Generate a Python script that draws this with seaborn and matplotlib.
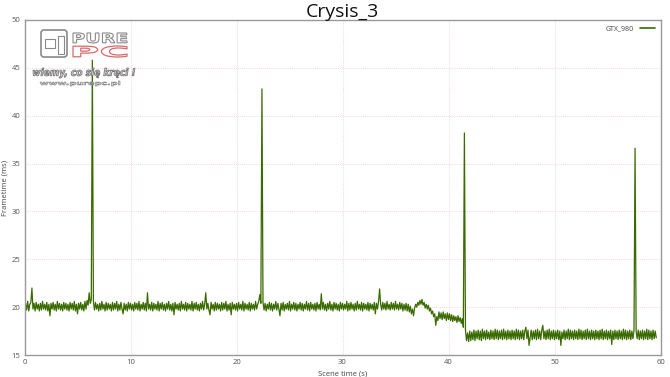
import numpy as np
import pandas as pd
import matplotlib
matplotlib.use("Agg")
import matplotlib.pyplot as plt
from matplotlib.textpath import TextPath
from matplotlib.patches import PathPatch, FancyBboxPatch, Rectangle
from matplotlib.font_manager import FontProperties
from matplotlib.transforms import Affine2D
import seaborn as sns

# ---- data ----
title = "Crysis_3"
series_name = "GTX_980"
x_label = "Scene time (s)"
y_label = "Frametime (ms)"
time_step = 0.1
frametime = [
    19.5, 20.4, 19.7, 20.6, 19.6, 20.3, 20.5, 22.0, 19.8, 20.4, 19.6, 20.5, 19.8, 20.3, 19.6, 20.4, 19.7, 20.6, 19.8, 20.3,
    19.7, 20.5, 19.6, 20.3, 19.1, 20.4, 19.8, 20.5, 19.7, 20.3, 19.6, 20.6, 19.8, 20.4, 19.7, 20.3, 19.6, 20.5, 19.8, 20.4,
    19.7, 20.3, 19.6, 20.5, 19.8, 20.4, 19.7, 20.6, 19.6, 20.3, 19.3, 20.4, 19.8, 20.5, 19.7, 20.3, 19.6, 20.6, 19.8, 20.7,
    20.2, 21.5, 20.4, 20.8, 45.8, 20.6, 19.7, 20.5, 19.8, 20.3, 19.6, 20.4, 19.7, 20.6, 19.8, 20.3, 19.6, 20.5, 19.7, 20.4,
    19.8, 20.3, 19.6, 20.5, 19.7, 20.4, 19.8, 20.6, 19.6, 20.3, 19.7, 20.5, 19.8, 19.3, 20.4, 19.7, 20.3, 19.6, 20.5, 19.8,
    20.4, 19.7, 20.3, 19.6, 20.5, 19.8, 20.4, 19.7, 20.6, 19.6, 20.3, 19.8, 20.5, 19.7, 20.4, 19.6, 21.5, 19.8, 20.3, 19.7,
    20.5, 19.6, 20.4, 19.8, 20.3, 19.7, 20.6, 19.6, 20.4, 19.8, 20.5, 19.7, 20.3, 19.6, 20.4, 19.8, 20.6, 19.7, 20.3, 19.6,
    20.4, 19.2, 20.5, 19.8, 20.3, 19.7, 20.4, 19.6, 20.6, 19.8, 20.3, 19.7, 20.5, 19.6, 20.4, 19.8, 20.3, 19.7, 20.6, 19.6,
    20.4, 19.8, 20.5, 19.7, 20.3, 19.6, 20.4, 19.8, 20.6, 19.7, 20.3, 21.5, 19.8, 20.4, 19.7, 19.2, 20.5, 19.8, 20.3, 19.6,
    20.5, 19.7, 20.4, 19.8, 20.3, 19.6, 20.5, 19.7, 20.4, 19.8, 20.6, 19.6, 20.3, 19.7, 20.4, 19.2, 20.5, 19.8, 20.3, 19.7,
    20.4, 19.6, 20.5, 19.8, 20.3, 19.7, 20.6, 19.6, 20.4, 19.8, 20.3, 19.7, 20.5, 19.6, 20.4, 19.8, 20.3, 19.7, 20.6, 19.8,
    20.3, 20.6, 21.3, 20.4, 42.8, 20.5, 19.7, 20.4, 19.6, 20.3, 19.8, 20.5, 19.7, 20.4, 19.6, 20.3, 19.8, 20.6, 19.7, 20.4,
    19.8, 19.1, 20.4, 19.7, 20.5, 19.6, 20.3, 19.8, 20.4, 19.7, 20.6, 19.6, 20.3, 19.8, 20.5, 19.7, 20.4, 19.6, 20.3, 19.8,
    20.5, 19.7, 20.4, 19.6, 20.3, 19.8, 20.6, 19.7, 20.4, 19.6, 20.5, 19.8, 20.3, 19.7, 20.4, 19.6, 20.5, 19.8, 20.3, 19.7,
    21.4, 19.8, 20.5, 19.7, 20.3, 19.6, 20.4, 19.8, 20.6, 19.7, 20.3, 19.6, 20.5, 19.8, 20.4, 19.7, 20.3, 19.6, 20.5, 19.8,
    20.4, 19.7, 20.3, 19.8, 20.6, 19.6, 20.4, 19.7, 20.5, 19.8, 20.3, 19.6, 20.4, 19.7, 20.6, 19.8, 20.3, 19.7, 20.5, 19.6,
    20.4, 19.8, 20.3, 19.7, 20.5, 19.6, 20.4, 19.8, 20.3, 19.7, 20.5, 19.3, 20.4, 19.8, 20.6, 21.9, 20.3, 19.7, 20.5, 19.8,
    20.4, 19.7, 20.6, 19.8, 20.3, 19.7, 20.5, 19.8, 20.4, 19.7, 20.6, 19.8, 20.3, 19.7, 20.5, 19.8, 20.4, 19.6, 20.3, 19.7,
    20.4, 19.6, 20.3, 19.5, 20.1, 19.3, 19.8, 19.1, 19.9, 20.3, 20.0, 20.5, 20.2, 20.7, 20.3, 20.8, 20.2, 20.5, 19.9, 20.3,
    19.8, 20.2, 19.6, 19.9, 19.3, 19.6, 19.0, 19.3, 18.1, 19.0, 18.6, 19.5, 18.8, 19.4, 18.7, 19.5, 18.8, 19.3, 18.6, 19.4,
    18.7, 19.3, 18.6, 19.2, 18.5, 19.1, 18.6, 19.0, 18.4, 19.1, 18.5, 18.9, 18.3, 18.8, 17.9, 38.2, 17.6, 16.5, 17.3, 16.4,
    17.5, 16.5, 17.4, 16.6, 17.6, 16.5, 17.5, 16.7, 17.6, 16.6, 17.5, 16.5, 17.7, 16.7, 17.5, 16.6, 17.6, 16.7, 17.4, 16.6,
    17.6, 16.7, 17.5, 16.6, 17.7, 16.7, 17.6, 16.6, 17.5, 16.7, 17.6, 16.6, 17.7, 16.7, 17.5, 16.6, 17.6, 16.7, 17.5, 16.6,
    17.6, 16.7, 17.5, 16.6, 17.7, 16.7, 17.6, 16.6, 17.5, 16.7, 17.6, 16.6, 17.5, 17.9, 16.7, 17.6, 16.0, 16.8, 17.6, 16.6,
    17.5, 16.7, 17.6, 16.6, 17.7, 16.7, 17.5, 16.6, 17.6, 18.1, 16.7, 17.5, 16.6, 17.6, 16.7, 17.7, 16.6, 17.5, 16.7, 17.6,
    16.6, 17.5, 16.7, 17.6, 16.6, 17.5, 16.0, 17.4, 16.7, 17.6, 16.6, 17.5, 16.7, 17.7, 16.6, 17.6, 16.7, 17.5, 16.6, 17.6,
    16.7, 17.5, 16.6, 17.7, 16.7, 17.6, 16.6, 17.5, 16.7, 17.6, 16.6, 17.7, 16.7, 17.5, 16.6, 17.6, 16.7, 17.5, 16.6, 17.6,
    16.7, 17.5, 16.6, 17.6, 16.7, 17.7, 16.6, 17.5, 16.7, 17.6, 16.6, 17.5, 16.7, 17.6, 16.1, 17.5, 16.6, 17.6, 16.7, 17.5,
    16.6, 17.6, 16.7, 17.5, 16.6, 17.7, 16.7, 17.6, 16.6, 17.5, 16.7, 17.6, 16.6, 17.5, 16.7, 17.6, 36.6, 17.5, 16.7, 17.6,
    16.6, 17.5, 16.7, 17.6, 16.6, 17.5, 16.7, 17.7, 16.6, 17.6, 16.7, 17.5, 16.6, 17.6, 16.7, 17.5, 16.8,
]
x_ticks = [0, 10, 20, 30, 40, 50, 60]
y_ticks = [15, 20, 25, 30, 35, 40, 45, 50]

scene_time = np.round(np.arange(len(frametime)) * time_step, 2)
df = pd.DataFrame({x_label: scene_time, y_label: frametime, "series": series_name})

# ---- styling ----
sns.set_theme(style="white")
plt.rcParams["font.family"] = ["Open Sans", "DejaVu Sans"]

W, H = 670, 377
fig = plt.figure(figsize=(W / 100, H / 100), dpi=100)
ax = fig.add_axes([24.5 / W, 1 - 355 / H, (660.5 - 24.5) / W, (355 - 20) / H])

line_color = "#3a6b00"
sns.lineplot(data=df, x=x_label, y=y_label, hue="series", palette=[line_color],
             estimator=None, linewidth=0.9, ax=ax)

ax.set_xlim(0, 60)
ax.set_ylim(15, 50)
ax.set_xticks(x_ticks)
ax.set_yticks(y_ticks)
ax.tick_params(axis="both", labelsize=5.5, colors="#555555", direction="in",
               length=3, width=0.6, pad=3)
ax.set_xlabel(x_label, fontsize=5.5, color="#444444", labelpad=3)
ax.set_ylabel(y_label, fontsize=5.5, color="#444444", labelpad=2)
ax.grid(True, color="#efc8d2", linestyle=(0, (1, 1.5)), linewidth=0.6)
ax.set_axisbelow(True)
for s in ax.spines.values():
    s.set_color("#999999")
    s.set_linewidth(1.0)

ax.set_title(title, fontsize=14, color="#111111", pad=2)

leg = ax.legend(loc="upper right", frameon=False, fontsize=5, markerfirst=False,
                handlelength=2.2, borderaxespad=0.4)
for h in leg.get_lines():
    h.set_linewidth(1.2)
for t in leg.get_texts():
    t.set_color("#444444")


# ---- watermark (approximation of the PurePC logo) ----
def stretched_text(s, box, face, edge, lw, weight="bold", style="normal"):
    x0, y0, x1, y1 = box  # pixel box, origin top-left
    tp = TextPath((0, 0), s, size=10,
                  prop=FontProperties(family="DejaVu Sans", weight=weight, style=style))
    ext = tp.get_extents()
    sx = (x1 - x0) / ext.width
    sy = (y1 - y0) / ext.height
    tr = Affine2D().translate(-ext.x0, -ext.y0).scale(sx, sy).translate(x0, H - y1)
    patch = PathPatch(tp, transform=tr, facecolor=face, edgecolor=edge, lw=lw, zorder=5)
    fig.add_artist(patch)


stretched_text("PURE", (73, 33, 127, 43), "white", "#8a8a8a", 0.8)
stretched_text("PC", (73, 46, 127, 57), "white", "#d86a6a", 0.9)
stretched_text("wiemy, co się kręci !", (33, 68, 135, 78), "#dddddd", "#777777", 0.6,
               style="italic")
stretched_text("www.purepc.pl", (40, 81, 120, 86), "#dddddd", "#888888", 0.5)
icon = FancyBboxPatch((41, H - 57), 26, 27, boxstyle="round,pad=0,rounding_size=3",
                      transform=Affine2D(), facecolor="white", edgecolor="#8a8a8a",
                      lw=1.2, zorder=5)
fig.add_artist(icon)
fig.add_artist(Rectangle((45, H - 48), 10, 9, transform=Affine2D(), facecolor="white",
                         edgecolor="#8a8a8a", lw=0.8, zorder=6))
fig.add_artist(Rectangle((58, H - 54), 6, 18, transform=Affine2D(), facecolor="white",
                         edgecolor="#8a8a8a", lw=0.8, zorder=6))

fig.savefig("out.png", dpi=100)
